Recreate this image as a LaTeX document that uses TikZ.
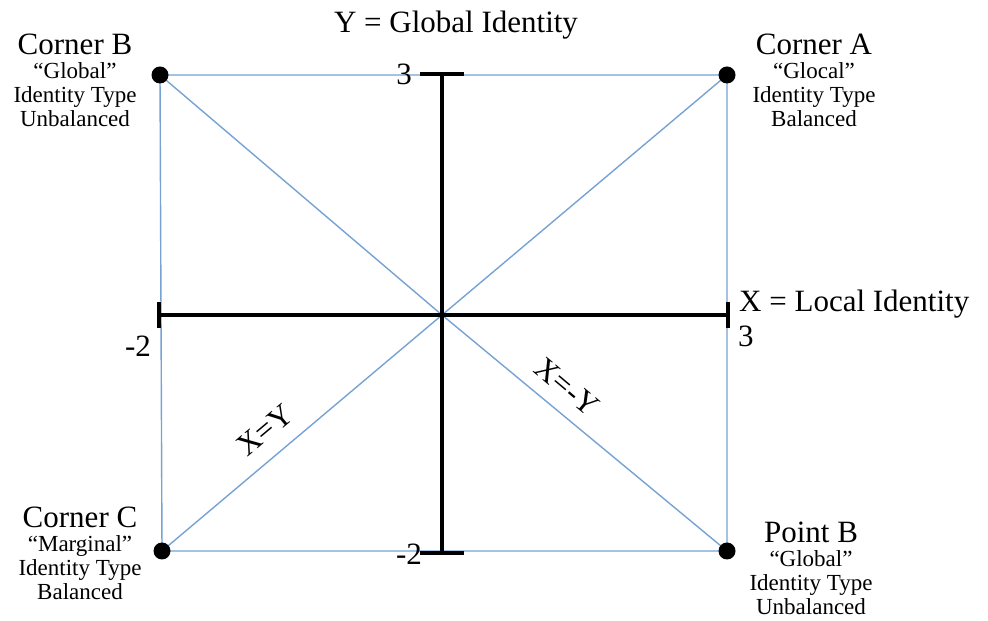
\documentclass[tikz,border=0pt]{standalone}
\usepackage{fontspec}
\setmainfont{Liberation Serif}
\definecolor{edgeblue}{RGB}{118,162,212}
\tikzset{
  frame/.style={edgeblue, line width=1.4pt},
  axis/.style={black, line width=3.2pt},
  tickbar/.style={black, line width=3.6pt},
  dot/.style={circle, fill=black, inner sep=0pt, minimum size=17pt},
  big/.style={font=\fontsize{31}{31}\selectfont, inner sep=0pt},
  corner/.style={align=center, inner sep=0pt, anchor=north, font=\fontsize{23}{24}\selectfont},
}
\newcommand{\cornertitle}[1]{{\fontsize{31}{31}\selectfont #1}}

\begin{document}
\begin{tikzpicture}[x=1pt,y=1pt]
  \useasboundingbox (0,0) rectangle (988,621);
  % corners of the square
  \coordinate (B) at (160,546);
  \coordinate (A) at (727,546);
  \coordinate (C) at (162,70);
  \coordinate (P) at (727,70);
  % axes
  \coordinate (O) at (442,306);
  \coordinate (xl) at (159,306);
  \coordinate (xr) at (728,306);
  \coordinate (yt) at (442,547);
  \coordinate (yb) at (442,68);

  \draw[frame] (B) -- (A) -- (P) -- (C) -- cycle;
  \draw[frame] (B) -- (O) -- (P);
  \draw[frame] (C) -- (O) -- (A);

  \draw[axis] (xl) -- (xr);
  \draw[axis] (yt) -- (yb);
  \draw[tickbar] ([yshift=-13pt]xl) -- ([yshift=13pt]xl);
  \draw[tickbar] ([yshift=-13pt]xr) -- ([yshift=13pt]xr);
  \draw[tickbar] ([xshift=-22pt]yt) -- ([xshift=22pt]yt);
  \draw[tickbar] ([xshift=-22pt]yb) -- ([xshift=22pt]yb);

  \node[dot] (dotB) at (B) {};
  \node[dot] (dotA) at (A) {};
  \node[dot] (dotC) at (C) {};
  \node[dot] (dotP) at (P) {};

  % axis labels
  \node[big, anchor=base] (ylab) at (456,588) {Y = Global Identity};
  \node[big, anchor=base west] (xlab) at (739,309) {X = Local Identity};
  \node[big, anchor=base] (ytop) at (404,536) {3};
  \node[big, anchor=base] (ybot) at (409,56) {-2};
  \node[big, anchor=base] (xleft) at (138,264) {-2};
  \node[big, anchor=base west] (xright) at (738,274) {3};

  % diagonals
  \node[big, rotate=40] (xeqy) at (265,191) {X=Y};
  \node[big, rotate=-40] (xeqmy) at (567,234) {X=-Y};

  % corner labels
  \node[corner] (lblB) at (75,587) {\cornertitle{Corner B}\\“Global”\\Identity Type\\Unbalanced};
  \node[corner] (lblA) at (814,587) {\cornertitle{Corner A}\\“Glocal”\\Identity Type\\Balanced};
  \node[corner] (lblC) at (80,114) {\cornertitle{Corner C}\\“Marginal”\\Identity Type\\Balanced};
  \node[corner] (lblP) at (811,99) {\cornertitle{Point B}\\“Global”\\Identity Type\\Unbalanced};
\end{tikzpicture}
\end{document}
